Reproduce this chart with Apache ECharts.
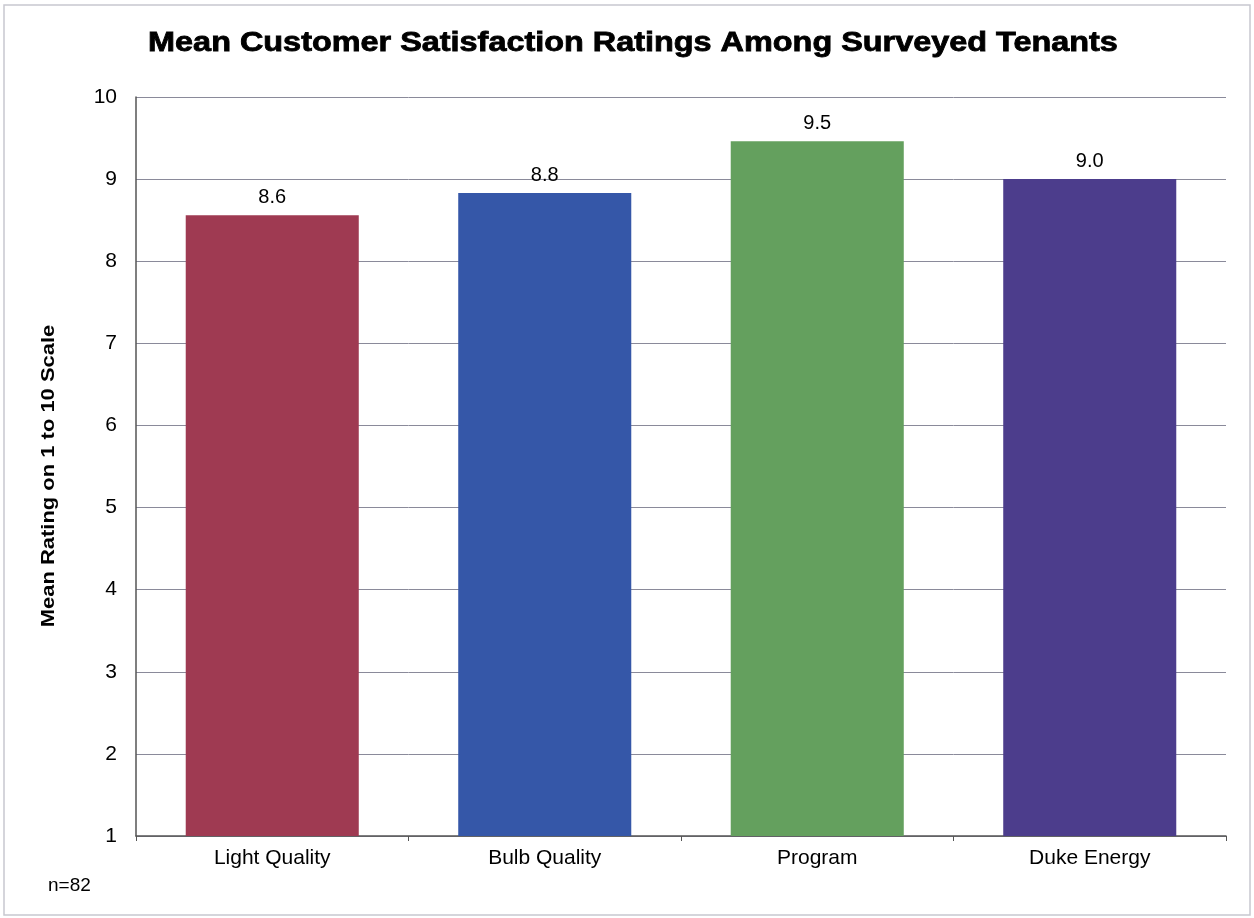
<!DOCTYPE html>
<html>
<head>
<meta charset="utf-8">
<script src="https://cdn.jsdelivr.net/npm/echarts@6/dist/echarts.min.js"></script>
<style>
html,body{margin:0;padding:0;background:#fff;}
#main{width:1254px;height:918px;}
</style>
</head>
<body>
<div id="main"></div>
<script>
const categories = ["Light Quality", "Bulb Quality", "Program", "Duke Energy"];
const ratings = [8.56, 8.83, 9.46, 9.0];
const barColors = ["#9F3A52", "#3557A8", "#64A05E", "#4C3D8C"];
const titleText = "Mean Customer Satisfaction Ratings Among Surveyed Tenants";
const yAxisTitle = "Mean Rating on 1 to 10 Scale";
const noteText = "n=82";

const chart = echarts.init(document.getElementById('main'));
chart.setOption({
  backgroundColor: '#ffffff',
  animation: false,
  grid: { left: 136, right: 28, top: 97, bottom: 82 },
  xAxis: {
    type: 'category',
    data: categories,
    axisLine: { lineStyle: { color: '#555', width: 1.5 } },
    axisTick: { show: true, length: 5, lineStyle: { color: '#555' } },
    axisLabel: { color: '#000', fontFamily: 'Liberation Sans', fontSize: 21, margin: 12 }
  },
  yAxis: {
    type: 'value',
    min: 1, max: 10, interval: 1,
    axisLine: { show: true, lineStyle: { color: '#555', width: 1.5 } },
    axisTick: { show: false },
    axisLabel: { color: '#000', fontFamily: 'Liberation Sans', fontSize: 21, margin: 19 },
    splitLine: { lineStyle: { color: '#8a8a9a', width: 1 } }
  },
  series: [{
    type: 'bar',
    data: ratings.map((v, i) => ({ value: v, itemStyle: { color: barColors[i] } })),
    barWidth: '63.5%',
    label: {
      show: true, position: 'top', distance: 8,
      formatter: p => p.value.toFixed(1),
      fontFamily: 'Liberation Sans', fontSize: 20, color: '#000'
    }
  }],
  graphic: [
    { type: 'text', x: 633, y: 44, scaleX: 1.2, scaleY: 1,
      style: { text: titleText, font: 'bold 27px "Liberation Sans"', fill: '#000', stroke: '#000', lineWidth: 0.8, textAlign: 'center', textVerticalAlign: 'middle' } },
    { type: 'text', x: 49, y: 476, rotation: Math.PI / 2, scaleX: 1.22, scaleY: 1,
      style: { text: yAxisTitle, font: 'bold 18px "Liberation Sans"', fill: '#000', textAlign: 'center', textVerticalAlign: 'middle' } },
    { type: 'text', x: 48, y: 886,
      style: { text: noteText, font: '19px "Liberation Sans"', fill: '#000', textAlign: 'left', textVerticalAlign: 'middle' } },
    { type: 'rect', shape: { x: 4, y: 5, width: 1246, height: 910 }, style: { fill: 'none', stroke: '#c8c8d0', lineWidth: 1.5 } }
  ]
});
</script>
</body>
</html>
